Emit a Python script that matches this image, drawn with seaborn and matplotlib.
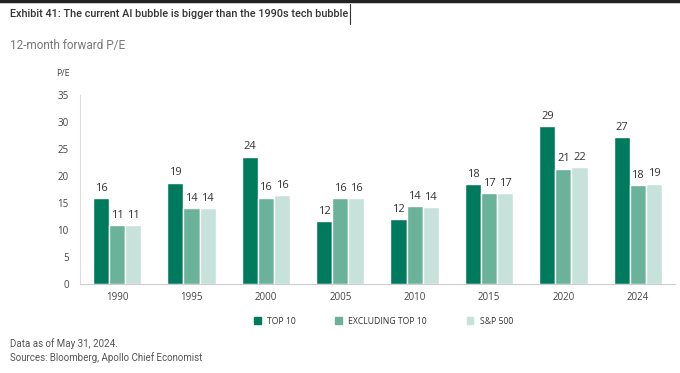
import pandas as pd
import numpy as np
import seaborn as sns
import matplotlib
matplotlib.use("Agg")
import matplotlib.pyplot as plt
from matplotlib.patches import Patch

years = ["1990", "1995", "2000", "2005", "2010", "2015", "2020", "2024"]
series = ["TOP 10", "EXCLUDING TOP 10", "S&P 500"]
top10 = [15.9, 18.8, 23.6, 11.6, 12.0, 18.5, 29.2, 27.3]
excl_top10 = [10.9, 14.1, 16.0, 15.9, 14.4, 16.9, 21.4, 18.3]
sp500 = [10.9, 14.1, 16.4, 15.9, 14.3, 16.9, 21.6, 18.6]
yticks = [0, 5, 10, 15, 20, 25, 30, 35]
colors = ["#007a5c", "#6ab29a", "#c6e2db"]

df = pd.DataFrame({
    "year": years * 3,
    "series": np.repeat(series, len(years)),
    "pe": top10 + excl_top10 + sp500,
})

sns.set_style("white")
plt.rcParams["font.family"] = ["Open Sans", "DejaVu Sans"]
head_font = ["Roboto", "DejaVu Sans"]

fig = plt.figure(figsize=(6.8, 3.73), dpi=100)
ax = fig.add_axes([0.1176, 0.2386, 0.875, 0.5064])

sns.barplot(data=df, x="year", y="pe", hue="series", hue_order=series,
            palette=colors, width=0.65, gap=0, saturation=1, ax=ax,
            legend=False, errorbar=None)

for c in ax.containers:
    ax.bar_label(c, labels=[f"{v:.0f}" for v in c.datavalues],
                 padding=3, fontsize=8, color="#333333")

ax.set_xlim(-0.5, 7.5)
ax.set_ylim(0, 35)
ax.set_yticks(yticks)
ax.set_xlabel("")
ax.set_ylabel("")
ax.tick_params(axis="both", labelsize=7, colors="#444444", length=0)
ax.tick_params(axis="y", pad=8)
ax.tick_params(axis="x", pad=6)
for s in ["top", "right"]:
    ax.spines[s].set_visible(False)
ax.spines["left"].set_color("#dddddd")
ax.spines["bottom"].set_color("#cccccc")
ax.spines["left"].set_linewidth(0.8)
ax.spines["bottom"].set_linewidth(0.8)

fig.text(0.093, 0.804, "P/E", fontsize=6.5, color="#444444", ha="center", va="center")

title = fig.text(0.015, 0.962,
                 "Exhibit 41: The current AI bubble is bigger than the 1990s tech bubble",
                 fontsize=7.85, color="#333333", va="center", fontweight="medium",
                 family=head_font)
fig.text(0.015, 0.877, "12-month forward P/E", fontsize=8.5, color="#777777",
         va="center", family=head_font)

# text cursor right after the title
fig.canvas.draw()
bb = title.get_window_extent().transformed(fig.transFigure.inverted())
fig.add_artist(plt.Line2D([bb.x1 + 0.003] * 2, [0.935, 0.99], color="#333333", lw=0.8))

fig.add_artist(plt.Line2D([0, 1], [0.997, 0.997], color="#222222", lw=2.5))

handles = [Patch(color=c) for c in colors]
fig.legend(handles, series, loc="center", bbox_to_anchor=(0.564, 0.139), ncol=3,
           frameon=False, fontsize=6.2, handlelength=0.75, handleheight=0.75,
           handletextpad=0.75, columnspacing=4.6, labelcolor="#333333")

fig.text(0.015, 0.08, "Data as of May 31, 2024.", fontsize=7, color="#555555",
         va="center", family=head_font)
fig.text(0.015, 0.042, "Sources: Bloomberg, Apollo Chief Economist", fontsize=7,
         color="#555555", va="center", family=head_font)

fig.savefig("out.png", dpi=100)
